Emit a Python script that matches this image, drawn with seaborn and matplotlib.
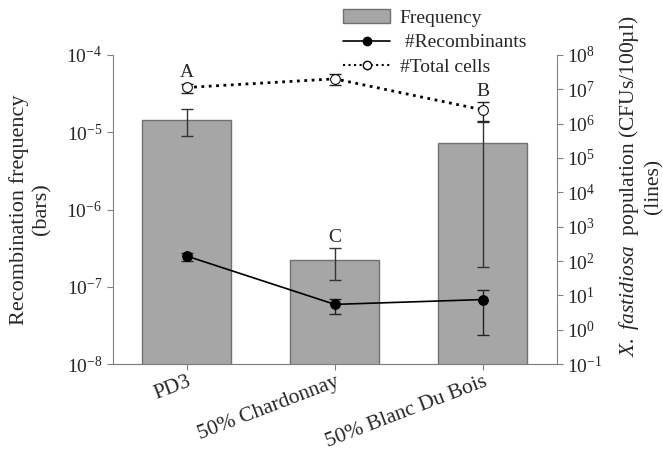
#Recombination frequency (bars) with recombinant and total cell counts (lines)
import numpy as np
import matplotlib
matplotlib.use("Agg")
import matplotlib.pyplot as plt
from matplotlib.lines import Line2D
from matplotlib.patches import Patch
from matplotlib.ticker import LogLocator, LogFormatterSciNotation, NullLocator
import seaborn as sns

sns.set_style("ticks")
plt.rcParams['font.family'] = ['Liberation Serif', 'DejaVu Serif']
plt.rcParams['mathtext.fontset'] = 'custom'
plt.rcParams['mathtext.rm'] = 'Liberation Serif'
plt.rcParams['mathtext.it'] = 'Liberation Serif:italic'
plt.rcParams['axes.unicode_minus'] = False

categories = ['PD3', '50% Chardonnay', '50% Blanc Du Bois']
letters = ['A', 'C', 'B']

# recombination frequency (left axis)
freq = [1.45e-5, 2.2e-7, 7.3e-6]
freq_low = [8.9e-6, 1.23e-7, 1.8e-7]
freq_high = [2.0e-5, 3.2e-7, 1.35e-5]

# recombinants (right axis, CFUs/100ul)
recomb = [140, 5.5, 7.6]
recomb_low = [98, 2.8, 0.70]
recomb_high = [175, 8.0, 14.3]

# total cells (right axis, CFUs/100ul)
total = [1.12e7, 2.0e7, 2.5e6]
total_low = [8.0e6, 1.35e7, 1.2e6]
total_high = [1.45e7, 2.75e7, 4.2e6]

bar_color = '#a6a6a6'
edge_color = '#707070'
spine_color = '#808080'

fig = plt.figure(figsize=(6.63, 4.53), dpi=100)
ax = fig.add_axes([0.170, 0.196, 0.670, 0.683])
ax.set_yscale('log')

sns.barplot(x=categories, y=freq, color=bar_color, edgecolor=edge_color,
            linewidth=1, width=0.6, saturation=1, ax=ax)
x = np.arange(len(categories))
ax.errorbar(x, freq, yerr=[np.array(freq) - np.array(freq_low), np.array(freq_high) - np.array(freq)],
            fmt='none', ecolor='#333333', elinewidth=1, capsize=4, capthick=1, zorder=3)

ax.set_ylim(1e-8, 1e-4)
ax.set_xlim(-0.5, 2.5)
ax.yaxis.set_major_locator(LogLocator(base=10, numticks=10))
ax.yaxis.set_minor_locator(NullLocator())
ax.yaxis.set_major_formatter(LogFormatterSciNotation())
ax.set_ylabel('Recombination frequency\n(bars)', fontsize=16)
ax.yaxis.set_label_coords(-0.138, 0.5)
ax.tick_params(axis='y', labelsize=14, color=spine_color, length=4)
ax.tick_params(axis='x', labelsize=15.5, color=spine_color, length=4, pad=2)
plt.setp(ax.get_xticklabels(), rotation=21, ha='right', rotation_mode='anchor')

ax2 = ax.twinx()
ax2.set_yscale('log')
sns.lineplot(x=x, y=recomb, color='black', linewidth=1.2, marker='o', markersize=7,
             markerfacecolor='black', markeredgecolor='black', ax=ax2, legend=False, zorder=4)
ax2.errorbar(x, recomb, yerr=[np.array(recomb) - np.array(recomb_low), np.array(recomb_high) - np.array(recomb)],
             fmt='none', ecolor='#222222', elinewidth=1, capsize=4, capthick=1, zorder=3)
sns.lineplot(x=x, y=total, color='black', linewidth=2, linestyle=':', marker='o', markersize=7,
             markerfacecolor='white', markeredgecolor='black', ax=ax2, legend=False, zorder=4)
ax2.errorbar(x, total, yerr=[np.array(total) - np.array(total_low), np.array(total_high) - np.array(total)],
             fmt='none', ecolor='#222222', elinewidth=1, capsize=4, capthick=1, zorder=3)

ax2.set_ylim(1e-1, 1e8)
ax2.yaxis.set_major_locator(LogLocator(base=10, numticks=20))
ax2.yaxis.set_minor_locator(NullLocator())
ax2.yaxis.set_major_formatter(LogFormatterSciNotation())
ax2.tick_params(axis='y', labelsize=14, color=spine_color, length=4)
ax2.set_ylabel('$\\mathit{X.\\ fastidiosa}$  population (CFUs/100µl)\n(lines)', fontsize=15.5)
ax2.yaxis.set_label_coords(1.135, 0.575)

# letter annotations
ax2.text(0, total_high[0] * 1.2, letters[0], ha='center', va='bottom', fontsize=14)
ax.text(1, freq_high[1] * 1.05, letters[1], ha='center', va='bottom', fontsize=14)
ax2.text(2, total_high[2] * 1.15, letters[2], ha='center', va='bottom', fontsize=14)

for a in (ax, ax2):
    a.spines['top'].set_visible(False)
    for s in ('left', 'right', 'bottom'):
        a.spines[s].set_color(spine_color)
ax.spines['right'].set_visible(False)
ax2.spines['left'].set_visible(False)

handles = [Patch(facecolor=bar_color, edgecolor=edge_color),
           Line2D([], [], color='black', linewidth=1.2, marker='o', markersize=6,
                  markerfacecolor='black'),
           Line2D([], [], color='black', linewidth=1.5, linestyle=':', marker='o', markersize=6,
                  markerfacecolor='white')]
fig.legend(handles, ['Frequency', ' #Recombinants', '#Total cells'], loc='upper left',
           bbox_to_anchor=(0.500, 1.005), frameon=False, fontsize=14, borderpad=0.1,
           handlelength=2.4, handletextpad=0.5, labelspacing=0.35)

fig.savefig('out.png', dpi=100)
